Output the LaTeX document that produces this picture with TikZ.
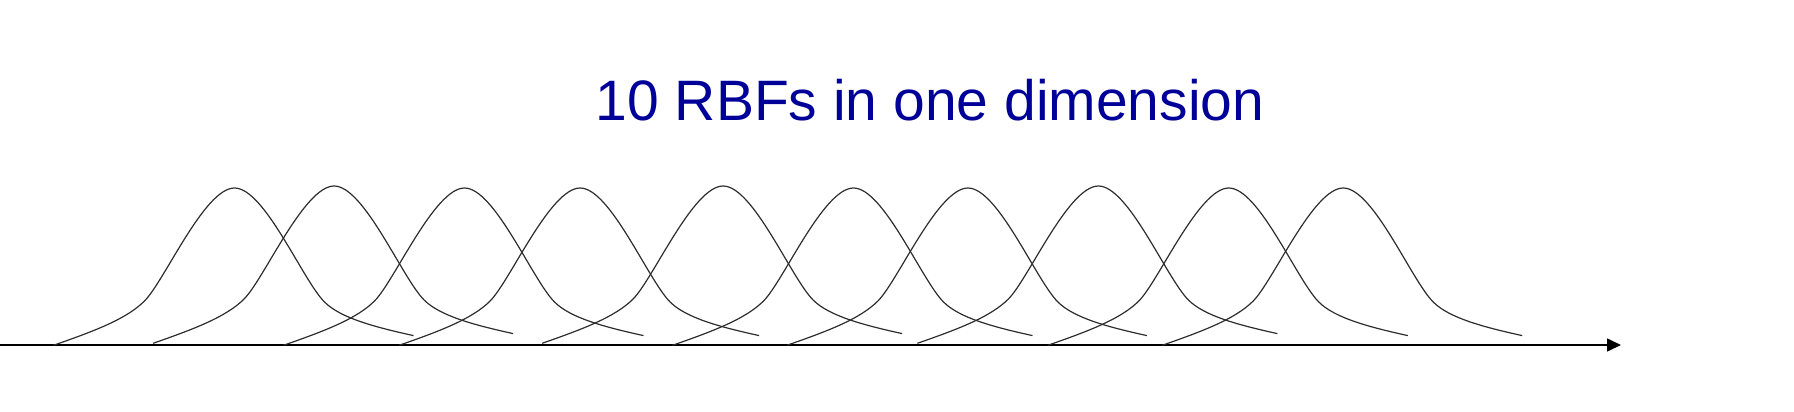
\documentclass[tikz,border=0pt]{standalone}
\usepackage{fontspec}
\setmainfont{Liberation Sans}
\usetikzlibrary{arrows.meta}
\definecolor{titleblue}{RGB}{0,0,153}
\definecolor{curvegray}{RGB}{45,45,45}
\begin{document}
\begin{tikzpicture}[x=1pt,y=-1pt,
  rbfcurve/.style={line width=1.2pt, draw=curvegray, line join=round},
  axisline/.style={line width=1.6pt, draw=black, -{Triangle[length=14pt,width=13pt]}},
  titletext/.style={font=\fontsize{57}{68}\selectfont, text=titleblue, inner sep=0pt, anchor=base},
  pics/rbf/.style={code={
    \draw[rbfcurve] (-181,157.3) .. controls (-140,143) and (-108,131) .. (-90,113)
      .. controls (-70,93) and (-30,0) .. (0,0)
      .. controls (30,0) and (68,92) .. (90,114)
      .. controls (106,130) and (140,139) .. (179,147.6);
  }}
]
\useasboundingbox (0,0) rectangle (1794,412);
\node[titletext] (title) at (930,120) {10 RBFs in one dimension};
\coordinate (axstart) at (0,345);
\coordinate (axend) at (1621,345);
\draw[axisline] (axstart) -- (axend);
\foreach \px/\py in {234.5/187, 334.1/185, 464.5/187, 580.1/187, 723.1/185,
                     853.5/187, 967.9/187, 1098.4/185, 1228.8/187, 1343.2/187} {
  \pic at (\px,\py+1) {rbf};
}
\end{tikzpicture}
\end{document}
